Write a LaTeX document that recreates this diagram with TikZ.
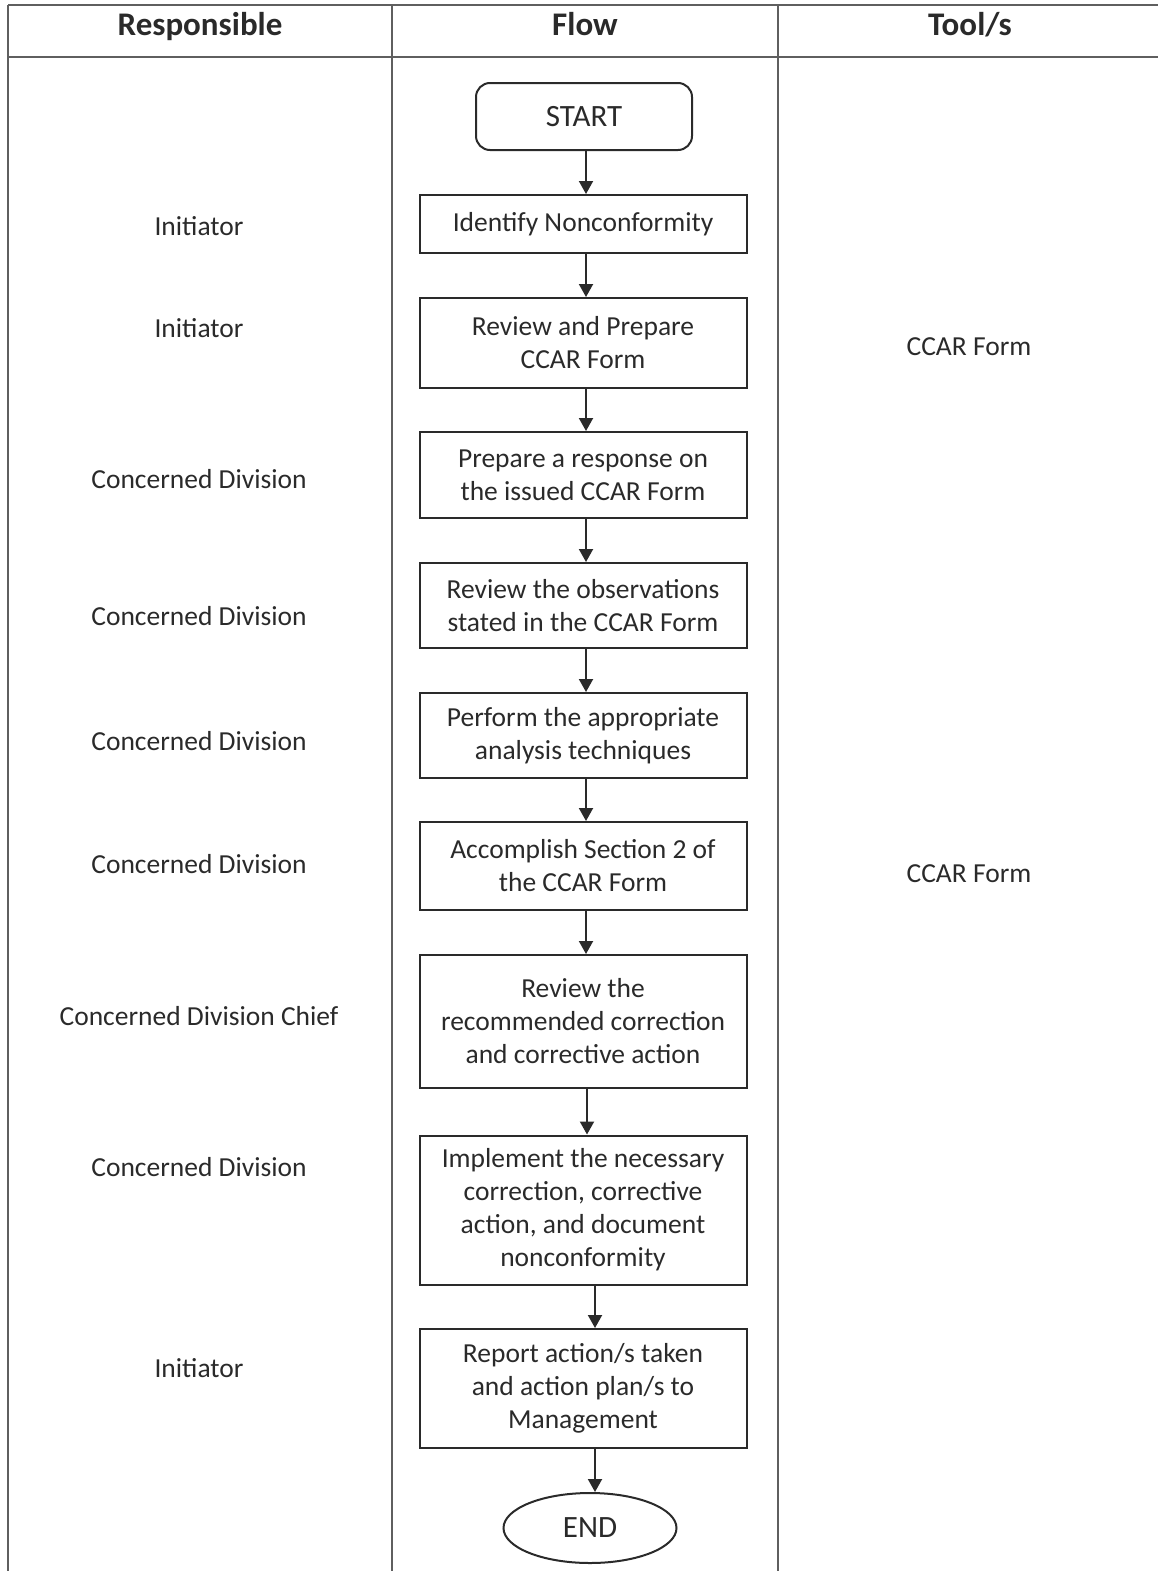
\documentclass[tikz,border=0pt]{standalone}
\usepackage{fontspec}
\setmainfont{Carlito}
\usetikzlibrary{arrows.meta,shapes.geometric}
\definecolor{ink}{HTML}{2A2A2A}
\begin{document}
\begin{tikzpicture}[x=1pt,y=-1pt,
  every node/.style={text=ink},
  body/.style={font=\fontsize{27.5}{33}\selectfont},
  term/.style={font=\fontsize{31}{36}\selectfont},
  head/.style={font=\fontsize{33}{38}\selectfont\bfseries,anchor=base},
  grid/.style={draw=ink!75,line width=1.3pt},
  stepbox/.style={body,draw=ink,line width=2pt,minimum width=327,align=center,inner sep=0pt},
  flowarrow/.style={draw=ink,line width=2pt,-{Triangle[length=13pt,width=14pt]}},
  lab/.style={body,align=center}]
\useasboundingbox (0,0) rectangle (1158,1571);
% table
\draw[grid] (8,5) -- (1158,5);
\draw[grid] (8,57) -- (1158,57);
\draw[grid] (8,5) -- (8,1571);
\draw[grid] (392,5) -- (392,1571);
\draw[grid] (778,5) -- (778,1571);
% headers
\node[head] (hresp) at (200,36) {Responsible};
\node[head] (hflow) at (585,36) {Flow};
\node[head] (htool) at (970,36) {Tool/s};
% flow
\node[term,draw=ink,line width=2pt,rounded corners=14pt,minimum width=216,minimum height=67,inner sep=0pt] (start) at (584,116.5) {START};
\node[stepbox,minimum height=58] (n1) at (583,224) {Identify Nonconformity};
\node[stepbox,minimum height=90] (n2) at (583,343) {Review and Prepare\\CCAR Form};
\node[stepbox,minimum height=86] (n3) at (583,475) {Prepare a response on\\the issued CCAR Form};
\node[stepbox,minimum height=85] (n4) at (583,605.5) {Review the observations\\stated in the CCAR Form};
\node[stepbox,minimum height=85] (n5) at (583,735.5) {Perform the appropriate\\analysis techniques};
\node[stepbox,minimum height=88] (n6) at (583,866) {Accomplish Section 2 of\\the CCAR Form};
\node[stepbox,minimum height=133] (n7) at (583,1021.5) {Review the\\recommended correction\\and corrective action};
\node[stepbox,minimum height=149] (n8) at (583,1210) {Implement the necessary\\correction, corrective\\action, and document\\nonconformity};
\node[stepbox,minimum height=119] (n9) at (583,1388.5) {Report action/s taken\\and action plan/s to\\Management};
\node[term,draw=ink,line width=2pt,ellipse,minimum width=173,minimum height=70,inner sep=0pt] (end) at (590,1528) {END};
% arrows
\draw[flowarrow] ([xshift=2pt]start.south) -- ([xshift=3pt]n1.north);
\draw[flowarrow] ([xshift=3pt]n1.south) -- ([xshift=3pt]n2.north);
\draw[flowarrow] ([xshift=3pt]n2.south) -- ([xshift=3pt]n3.north);
\draw[flowarrow] ([xshift=3pt]n3.south) -- ([xshift=3pt]n4.north);
\draw[flowarrow] ([xshift=3pt]n4.south) -- ([xshift=3pt]n5.north);
\draw[flowarrow] ([xshift=3pt]n5.south) -- ([xshift=3pt]n6.north);
\draw[flowarrow] ([xshift=3pt]n6.south) -- ([xshift=3pt]n7.north);
\draw[flowarrow] ([xshift=4pt]n7.south) -- ([xshift=4pt]n8.north);
\draw[flowarrow] ([xshift=12pt]n8.south) -- ([xshift=12pt]n9.north);
\draw[flowarrow] ([xshift=12pt]n9.south) -- ([xshift=5pt]end.north);
% responsible
\node[lab] (r1) at (199,226) {Initiator};
\node[lab] (r2) at (199,328) {Initiator};
\node[lab] (r3) at (199,479) {Concerned Division};
\node[lab] (r4) at (199,616) {Concerned Division};
\node[lab] (r5) at (199,741) {Concerned Division};
\node[lab] (r6) at (199,864) {Concerned Division};
\node[lab] (r7) at (199,1016) {Concerned Division Chief};
\node[lab] (r8) at (199,1167) {Concerned Division};
\node[lab] (r9) at (199,1368) {Initiator};
% tools
\node[lab] (t1) at (969,347) {CCAR Form};
\node[lab] (t2) at (969,874) {CCAR Form};
\end{tikzpicture}
\end{document}
